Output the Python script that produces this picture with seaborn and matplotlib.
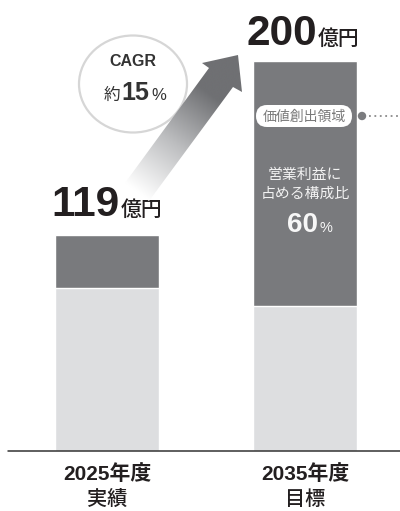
import numpy as np
import matplotlib
matplotlib.use("Agg")
import matplotlib.pyplot as plt
import seaborn as sns
import pandas as pd
from matplotlib.patches import Ellipse, Polygon, FancyBboxPatch, Circle
from matplotlib.colors import LinearSegmentedColormap

# ---- data ----
categories = ["2025年度", "2035年度"]
category_sub = ["実績", "目標"]
value_labels = ["119", "200"]
lower_segment = [90, 80]      # light part
upper_segment = [29, 135]     # dark part (value-creation area)
cagr_text = "15"
share_text = "60"

sns.set_theme(style="white")
plt.rcParams['font.family'] = ['Liberation Sans', 'Noto Sans CJK JP', 'DejaVu Sans']

DARK = "#797a7d"
LIGHT = "#dddee0"
TXT = "#231f20"

totals = [a + b for a, b in zip(lower_segment, upper_segment)]
df = pd.DataFrame({"cat": categories, "total": totals, "lower": lower_segment})

fig = plt.figure(figsize=(4, 5.11), dpi=100)
fig.patch.set_facecolor("white")
ax = fig.add_axes([0, 60/511, 1, 451/511])
sns.barplot(data=df, x="cat", y="total", color=DARK, saturation=1, width=0.525, ax=ax, zorder=2)
sns.barplot(data=df, x="cat", y="lower", color=LIGHT, saturation=1, width=0.525, ax=ax, zorder=3)
ax.set_xlim(-0.540, 1.480)
ax.set_ylim(0, 451/1.815)
ax.axis("off")
ax.axhline(0, xmin=8/400, xmax=1, color="#333333", lw=1.1, zorder=5, clip_on=False)

# value labels above bars
offs = [(0.066, 19*0.72), (0.06, 16*0.72)]
for i, lab in enumerate(value_labels):
    dx, dy = offs[i]
    ax.annotate(lab, xy=(i + dx, totals[i]), xytext=(0, dy), textcoords="offset points",
                ha="right", va="baseline", fontsize=30.5, fontweight="bold", color=TXT,
                annotation_clip=False)
    ax.annotate("億円", xy=(i + dx, totals[i]), xytext=(0.5, dy), textcoords="offset points",
                ha="left", va="baseline", fontsize=15, fontweight="medium", color=TXT,
                family=['Noto Sans CJK JP'], annotation_clip=False)

# category labels
for i, (c, s) in enumerate(zip(categories, category_sub)):
    ax.annotate(c, xy=(i, 0), xytext=(0, -23*0.72), textcoords="offset points",
                ha="center", va="center", fontsize=15, fontweight="bold", color=TXT,
                annotation_clip=False)
    ax.annotate(s, xy=(i, 0), xytext=(0, -48*0.72), textcoords="offset points",
                ha="center", va="center", fontsize=14.5, fontweight="medium", color=TXT,
                family=['Noto Sans CJK JP'], annotation_clip=False)

# ---- overlay in pixel coordinates ----
ov = fig.add_axes([0, 0, 1, 1], zorder=10)
ov.set_xlim(0, 400)
ov.set_ylim(511, 0)
ov.axis("off")
ov.patch.set_alpha(0)

# CAGR circle
ov.add_patch(Ellipse((133, 84), 108, 97, fill=False, edgecolor="#d6d6d6", lw=1.6))
ov.text(133, 61, "CAGR", ha="center", va="center", fontsize=11.5, fontweight="bold", color="#333333")
ov.text(120, 100, "約", ha="right", va="baseline", fontsize=12, color="#333333",
        family=['Noto Sans CJK JP'])
ov.text(121, 100, cagr_text, ha="left", va="baseline", fontsize=18, fontweight="bold", color="#333333")
ov.text(151, 100, "%", ha="left", va="baseline", fontsize=12, color="#333333")

# gradient arrow
poly = [(125, 183), (209, 68), (202, 63), (238, 55), (242, 92), (233, 87), (149, 201)]
patch = Polygon(poly, closed=True, facecolor="none", edgecolor="none")
ov.add_patch(patch)
T = np.array([137, 192.0]); H = np.array([238, 55.0])
u = (H - T) / np.linalg.norm(H - T)
L = np.linalg.norm(H - T)
xs = np.linspace(110, 250, 300); ys = np.linspace(45, 210, 300)
X, Y = np.meshgrid(xs, ys)
t = ((X - T[0]) * u[0] + (Y - T[1]) * u[1]) / L
t = np.clip(t / 0.72, 0, 1)
cmap = LinearSegmentedColormap.from_list("g", ["#ffffff", "#bdbec0", "#6f7073"])
im = ov.imshow(t, extent=(110, 250, 210, 45), cmap=cmap, vmin=0, vmax=1,
               interpolation="bilinear", aspect="auto", zorder=4)
im.set_clip_path(patch)
ov.set_xlim(0, 400); ov.set_ylim(511, 0)

# pill label
ov.add_patch(FancyBboxPatch((256, 105), 96, 22, boxstyle="round,pad=0,rounding_size=11",
                            facecolor="white", edgecolor="none", zorder=5))
ov.text(304, 116.5, "価値創出領域", ha="center", va="center", fontsize=10, color="#7a7a7a",
        family=['Noto Sans CJK JP'], zorder=6)
ov.add_patch(Circle((362, 116), 3.5, color="#7b7c7f", zorder=6))
ov.plot([369, 400], [116, 116], color="#8a8a8a", lw=1.3, ls=(0, (1, 2)), zorder=6)

# share text inside bar
ov.text(305, 175, "営業利益に", ha="center", va="center", fontsize=10.7, color="#f2f2f2",
        family=['Noto Sans CJK JP'], zorder=6)
ov.text(305, 194, "占める構成比", ha="center", va="center", fontsize=10.7, color="#f2f2f2",
        family=['Noto Sans CJK JP'], zorder=6)
ov.text(318, 232, share_text, ha="right", va="baseline", fontsize=20, fontweight="bold",
        color="#f7f7f7", zorder=6)
ov.text(320, 232, "%", ha="left", va="baseline", fontsize=10.5, color="#f7f7f7", zorder=6)

fig.savefig("out.png", dpi=100)
